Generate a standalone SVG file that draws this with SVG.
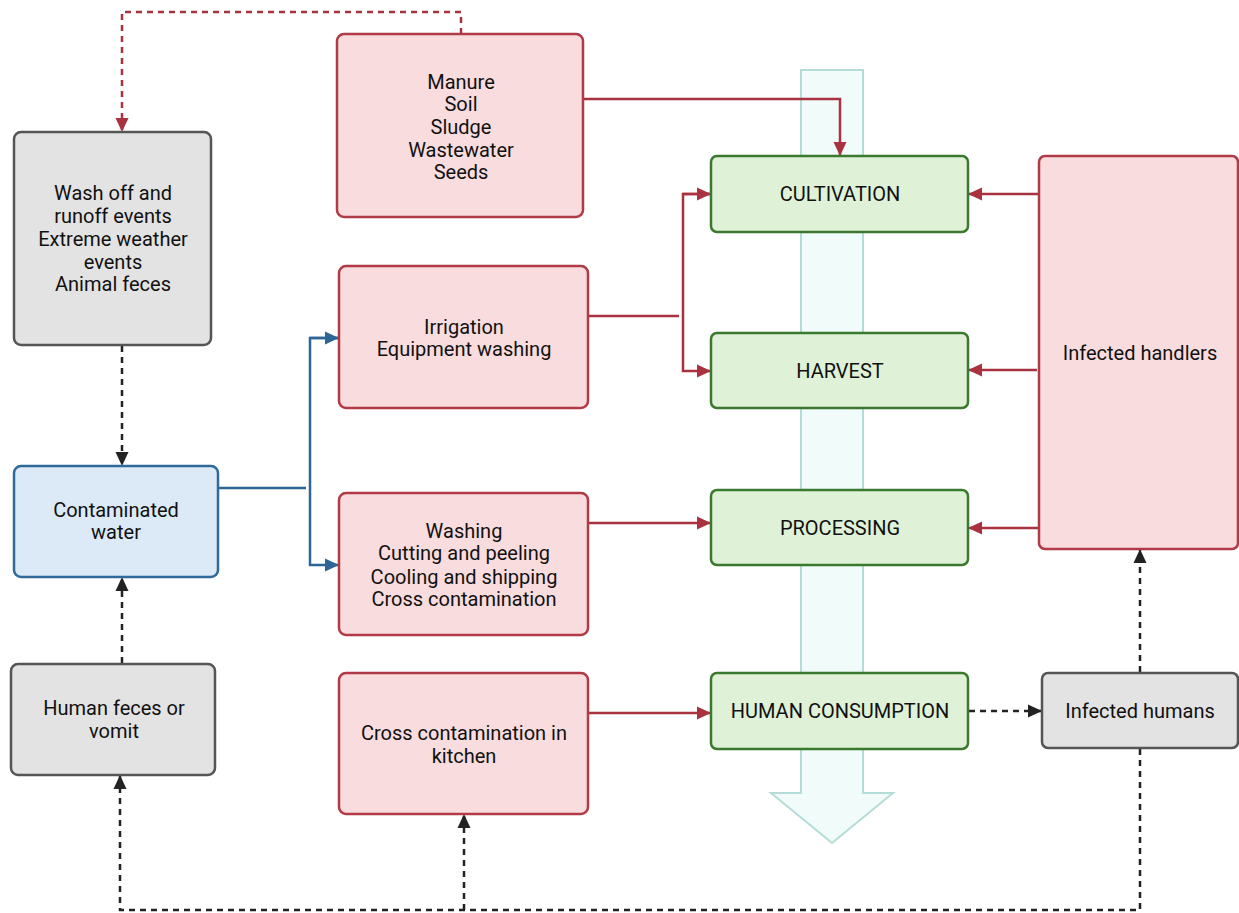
<svg xmlns="http://www.w3.org/2000/svg" width="1239" height="913" viewBox="0 0 1239 913">
<defs>
<marker id="ar" markerWidth="14" markerHeight="14" refX="13" refY="7" orient="auto" markerUnits="userSpaceOnUse"><path d="M0,0.5 L14,7 L0,13.5 Z" fill="#a8323f"/></marker>
<marker id="ab" markerWidth="14" markerHeight="14" refX="13" refY="7" orient="auto" markerUnits="userSpaceOnUse"><path d="M0,0.5 L14,7 L0,13.5 Z" fill="#2c6596"/></marker>
<marker id="ak" markerWidth="14" markerHeight="14" refX="13" refY="7" orient="auto" markerUnits="userSpaceOnUse"><path d="M0,0.5 L14,7 L0,13.5 Z" fill="#222"/></marker>
</defs>
<style>
text{font-family:Roboto,"Liberation Sans",sans-serif;font-size:20px;fill:#111;text-anchor:middle;dominant-baseline:central}
.red{fill:#f9dcdd;stroke:#b13a47;stroke-width:2.5}
.gray{fill:#e3e3e3;stroke:#555;stroke-width:2.5}
.blue{fill:#dce9f7;stroke:#2f6a9a;stroke-width:2.5}
.green{fill:#dff2d8;stroke:#3b7a2e;stroke-width:2.5}
.cr{fill:none;stroke:#a8323f;stroke-width:2.5}
.cb{fill:none;stroke:#2c6596;stroke-width:2.5}
.ck{fill:none;stroke:#222;stroke-width:2.5;stroke-dasharray:6,5}
.crd{fill:none;stroke:#a8323f;stroke-width:2.5;stroke-dasharray:6,5}
</style>
<rect width="1239" height="913" fill="#fff"/>
<g id="flow-arrow">
<path d="M801,70 L863,70 L863,793 L893,793 L832,843 L771,793 L801,793 Z" fill="#f1fbf9" stroke="#b5dcd8" stroke-width="2"/>
</g>
<g id="connectors">
<path class="crd" d="M461,34 L461,12 L122,12 L122,131" marker-end="url(#ar)"/>
<path class="cr" d="M583,99 L840,99 L840,155" marker-end="url(#ar)"/>
<path class="cr" d="M588,316 L679,316"/>
<path class="cr" d="M710,194 L683,194 L683,371 L710,371" marker-end="url(#ar)"/>
<path class="cr" d="M683,194 L710,194" marker-end="url(#ar)"/>
<path class="cr" d="M588,523 L710,523" marker-end="url(#ar)"/>
<path class="cr" d="M588,713 L710,713" marker-end="url(#ar)"/>
<path class="cr" d="M1039,194 L969,194" marker-end="url(#ar)"/>
<path class="cr" d="M1037,370 L969,370" marker-end="url(#ar)"/>
<path class="cr" d="M1041,528 L969,528" marker-end="url(#ar)"/>
<path class="cb" d="M218,488 L306,488"/>
<path class="cb" d="M338,338 L310,338 L310,565 L338,565" marker-end="url(#ab)"/>
<path class="cb" d="M310,338 L338,338" marker-end="url(#ab)"/>
<path class="ck" d="M122,346 L122,465" marker-end="url(#ak)"/>
<path class="ck" d="M122,663 L122,578" marker-end="url(#ak)"/>
<path class="ck" d="M969,711 L1041,711" marker-end="url(#ak)"/>
<path class="ck" d="M1140,672 L1140,550" marker-end="url(#ak)"/>
<path class="ck" d="M1140,749 L1140,910 L120,910 L120,776" marker-end="url(#ak)"/>
<path class="ck" d="M464,910 L464,815" marker-end="url(#ak)"/>
</g>
<g id="washoff">
<rect class="gray" x="14" y="132" width="197" height="213" rx="7"/>
<text x="113" y="193">Wash off and</text>
<text x="113" y="216">runoff events</text>
<text x="113" y="239">Extreme weather</text>
<text x="113" y="262">events</text>
<text x="113" y="284">Animal feces</text>
</g>
<g id="manure">
<rect class="red" x="337" y="34" width="246" height="183" rx="7"/>
<text x="461" y="82">Manure</text>
<text x="461" y="104">Soil</text>
<text x="461" y="127">Sludge</text>
<text x="461" y="150">Wastewater</text>
<text x="461" y="172">Seeds</text>
</g>
<g id="irrigation">
<rect class="red" x="339" y="266" width="249" height="142" rx="7"/>
<text x="464" y="327">Irrigation</text>
<text x="464" y="349">Equipment washing</text>
</g>
<g id="washing">
<rect class="red" x="339" y="493" width="249" height="142" rx="7"/>
<text x="464" y="531">Washing</text>
<text x="464" y="553">Cutting and peeling</text>
<text x="464" y="577">Cooling and shipping</text>
<text x="464" y="599">Cross contamination</text>
</g>
<g id="kitchen">
<rect class="red" x="339" y="673" width="249" height="141" rx="7"/>
<text x="464" y="733">Cross contamination in</text>
<text x="464" y="756">kitchen</text>
</g>
<g id="water">
<rect class="blue" x="14" y="466" width="204" height="111" rx="7"/>
<text x="116" y="510">Contaminated</text>
<text x="116" y="532">water</text>
</g>
<g id="humanfeces">
<rect class="gray" x="11" y="664" width="204" height="111" rx="7"/>
<text x="114" y="708">Human feces or</text>
<text x="114" y="731">vomit</text>
</g>
<g id="cultivation">
<rect class="green" x="711" y="156" width="257" height="76" rx="6"/>
<text x="840" y="194">CULTIVATION</text>
</g>
<g id="harvest">
<rect class="green" x="711" y="333" width="257" height="75" rx="6"/>
<text x="840" y="371">HARVEST</text>
</g>
<g id="processing">
<rect class="green" x="711" y="490" width="257" height="75" rx="6"/>
<text x="840" y="528">PROCESSING</text>
</g>
<g id="consumption">
<rect class="green" x="711" y="673" width="257" height="76" rx="6"/>
<text x="840" y="711">HUMAN CONSUMPTION</text>
</g>
<g id="handlers">
<rect class="red" x="1039" y="156" width="199" height="393" rx="6"/>
<text x="1140" y="353">Infected handlers</text>
</g>
<g id="infectedhumans">
<rect class="gray" x="1042" y="673" width="196" height="75" rx="6"/>
<text x="1140" y="711">Infected humans</text>
</g>
</svg>
